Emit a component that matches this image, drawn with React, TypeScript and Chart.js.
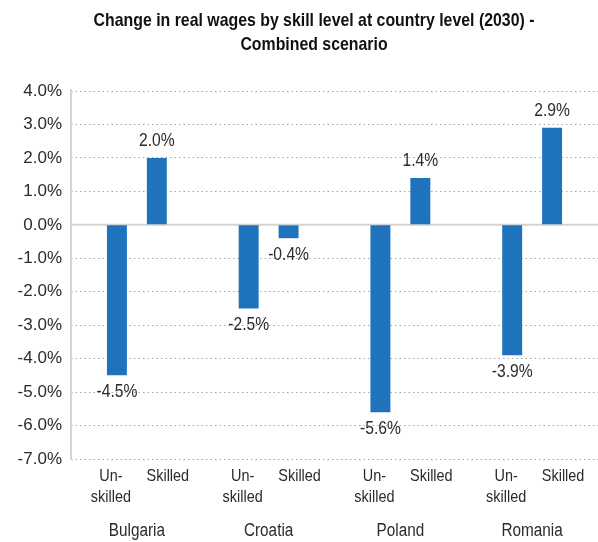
import React, { useEffect, useRef } from 'react';
import { Chart, registerables } from 'chart.js';

Chart.register(...registerables);

const countries = ['Bulgaria', 'Croatia', 'Poland', 'Romania'];
const unskilledValues = [-4.5, -2.5, -5.6, -3.9];
const skilledValues = [2.0, -0.4, 1.4, 2.9];
const seriesNames = ['Unskilled', 'Skilled'];
const seriesTickLabels = [['Un-', 'skilled'], ['Skilled']];
const titleLines = ['Change in real wages by skill level at country level (2030) -', 'Combined scenario'];
const yMin = -7;
const yMax = 4;
const yStep = 1;

const FONT = "'Liberation Sans', Arial, sans-serif";
const BAR_COLOR = '#1f73bd';
const TEXT_COLOR = '#2b2b2b';
const AXIS_COLOR = '#d3d3d3';
const GRID_COLOR = '#a8a8a8';
const SUB_LABEL_SHIFT = [-6, 11];

const fmt = (v: number) => v.toFixed(1) + '%';

function narrowText(ctx: any, text: string, x: number, y: number, sx: number) {
  ctx.save();
  ctx.translate(x, y);
  ctx.scale(sx, 1);
  ctx.fillText(text, 0, 0);
  ctx.restore();
}

const decorPlugin = {
  id: 'decor',
  beforeDatasetsDraw(chart: any) {
    const { ctx, chartArea, scales } = chart;
    const y0 = scales.y.getPixelForValue(0);
    ctx.save();
    ctx.strokeStyle = AXIS_COLOR;
    ctx.lineWidth = 2;
    ctx.beginPath();
    ctx.moveTo(chartArea.left, y0);
    ctx.lineTo(chartArea.right, y0);
    ctx.stroke();
    ctx.beginPath();
    ctx.moveTo(chartArea.left, chartArea.top - 2);
    ctx.lineTo(chartArea.left, chartArea.bottom);
    ctx.stroke();
    ctx.restore();
  },
  afterDatasetsDraw(chart: any) {
    const { ctx, chartArea, scales } = chart;
    ctx.save();
    ctx.fillStyle = TEXT_COLOR;
    ctx.textAlign = 'center';
    ctx.textBaseline = 'middle';
    chart.data.datasets.forEach((ds: any, i: number) => {
      const meta = chart.getDatasetMeta(i);
      meta.data.forEach((el: any, j: number) => {
        const v = ds.data[j];
        const y = v >= 0 ? el.y - 17 : el.y + 17;
        ctx.font = `18px ${FONT}`;
        narrowText(ctx, fmt(v), el.x, y, 0.87);
        ctx.font = `17px ${FONT}`;
        seriesTickLabels[i].forEach((line: string, k: number) => {
          narrowText(ctx, line, el.x + SUB_LABEL_SHIFT[i], chartArea.bottom + 17 + k * 21, 0.85);
        });
      });
    });
    ctx.font = `18px ${FONT}`;
    countries.forEach((c: string, j: number) => {
      narrowText(ctx, c, scales.x.getPixelForValue(j), chartArea.bottom + 72, 0.85);
    });
    ctx.restore();
  },
};

export default function App() {
  const canvasRef = useRef<HTMLCanvasElement>(null);

  useEffect(() => {
    document.body.style.margin = '0';
    const canvas = canvasRef.current;
    if (!canvas) return;
    const chart = new Chart(canvas, {
      type: 'bar',
      data: {
        labels: countries,
        datasets: [
          {
            label: seriesNames[0],
            data: unskilledValues,
            backgroundColor: BAR_COLOR,
            categoryPercentage: 0.606,
            barPercentage: 0.5,
          },
          {
            label: seriesNames[1],
            data: skilledValues,
            backgroundColor: BAR_COLOR,
            categoryPercentage: 0.606,
            barPercentage: 0.5,
          },
        ],
      },
      options: {
        animation: false,
        responsive: false,
        maintainAspectRatio: false,
        layout: { padding: { top: 91, left: 8, right: 0, bottom: 0 } },
        plugins: {
          legend: { display: false },
          title: { display: false },
          tooltip: { enabled: false },
        },
        scales: {
          x: {
            grid: { display: false, drawTicks: false },
            border: { display: false },
            ticks: { display: false },
            afterFit: (scale: any) => {
              scale.height = 83;
            },
          },
          y: {
            min: yMin,
            max: yMax,
            grid: {
              drawTicks: false,
              color: (ctx: any) => (ctx.tick && ctx.tick.value === 0 ? 'rgba(0,0,0,0)' : GRID_COLOR),
              lineWidth: 1,
            },
            border: { display: false, dash: [1.5, 3] },
            ticks: {
              stepSize: yStep,
              color: TEXT_COLOR,
              font: { family: FONT, size: 17 },
              padding: 9,
              callback: (v: any) => fmt(Number(v)),
            },
            afterFit: (scale: any) => {
              scale.width = 63;
            },
          },
        },
      },
      plugins: [decorPlugin],
    });
    return () => chart.destroy();
  }, []);

  return (
    <div style={{ position: 'relative', width: 598, height: 542, overflow: 'hidden' }}>
      <canvas ref={canvasRef} width={598} height={542} style={{ display: 'block' }} />
      <div
        style={{
          position: 'absolute',
          top: 8,
          left: 30,
          width: 568,
          textAlign: 'center',
          fontFamily: FONT,
          fontWeight: 'bold',
          fontSize: 19,
          lineHeight: '24px',
          color: '#111',
          transform: 'scaleX(0.835)',
          transformOrigin: '284px 0',
          whiteSpace: 'nowrap',
        }}
      >
        {titleLines.map((t, i) => (
          <div key={i}>{t}</div>
        ))}
      </div>
    </div>
  );
}
